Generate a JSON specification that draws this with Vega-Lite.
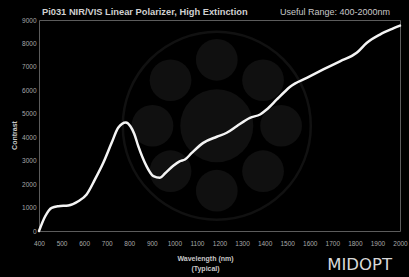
{
  "$schema": "https://vega.github.io/schema/vega-lite/v6.json",
  "autosize": "none",
  "width": 361,
  "height": 211,
  "padding": {"left": 39, "top": 20, "right": 9, "bottom": 46},
  "background": "#000000",
  "view": {"stroke": "#5c5c5c", "strokeWidth": 1, "fill": "#000000"},
  "config": {"font": "Liberation Sans"},
  "datasets": {
    "curve": [
      {"wavelength": 400, "contrast": 0},
      {"wavelength": 427, "contrast": 620},
      {"wavelength": 456, "contrast": 990},
      {"wavelength": 486, "contrast": 1060},
      {"wavelength": 530, "contrast": 1090},
      {"wavelength": 574, "contrast": 1270},
      {"wavelength": 611, "contrast": 1560},
      {"wavelength": 648, "contrast": 2200},
      {"wavelength": 685, "contrast": 2910},
      {"wavelength": 722, "contrast": 3760},
      {"wavelength": 751, "contrast": 4400},
      {"wavelength": 785, "contrast": 4630},
      {"wavelength": 805, "contrast": 4470},
      {"wavelength": 822, "contrast": 4150},
      {"wavelength": 840, "contrast": 3620},
      {"wavelength": 877, "contrast": 2760},
      {"wavelength": 907, "contrast": 2340},
      {"wavelength": 936, "contrast": 2270},
      {"wavelength": 958, "contrast": 2450},
      {"wavelength": 995, "contrast": 2780},
      {"wavelength": 1025, "contrast": 2980},
      {"wavelength": 1047, "contrast": 3050},
      {"wavelength": 1077, "contrast": 3330},
      {"wavelength": 1128, "contrast": 3760},
      {"wavelength": 1188, "contrast": 4020},
      {"wavelength": 1232, "contrast": 4190},
      {"wavelength": 1276, "contrast": 4470},
      {"wavelength": 1335, "contrast": 4830},
      {"wavelength": 1380, "contrast": 4970},
      {"wavelength": 1409, "contrast": 5180},
      {"wavelength": 1454, "contrast": 5610},
      {"wavelength": 1490, "contrast": 5950},
      {"wavelength": 1513, "contrast": 6150},
      {"wavelength": 1587, "contrast": 6530},
      {"wavelength": 1660, "contrast": 6890},
      {"wavelength": 1734, "contrast": 7240},
      {"wavelength": 1808, "contrast": 7600},
      {"wavelength": 1852, "contrast": 8020},
      {"wavelength": 1911, "contrast": 8380},
      {"wavelength": 1970, "contrast": 8640},
      {"wavelength": 2000, "contrast": 8760}
    ],
    "ring": [{"wavelength": 1188, "contrast": 4490}],
    "small": [
      {"wavelength": 1188, "contrast": 7300},
      {"wavelength": 1188, "contrast": 1720},
      {"wavelength": 903, "contrast": 4490},
      {"wavelength": 1473, "contrast": 4490},
      {"wavelength": 983, "contrast": 6430},
      {"wavelength": 1393, "contrast": 6430},
      {"wavelength": 983, "contrast": 2550},
      {"wavelength": 1393, "contrast": 2550}
    ],
    "heading": [
      {"wavelength": 400, "contrast": 9000, "label": "Pi031 NIR/VIS Linear Polarizer, High Extinction"}
    ],
    "notes": [
      {"wavelength": 2000, "contrast": 9000, "label": "Useful Range: 400-2000nm"}
    ],
    "logo": [
      {"wavelength": 2000, "contrast": 0, "label": "MIDOPT"}
    ]
  },
  "encoding": {
    "x": {
      "field": "wavelength",
      "type": "quantitative",
      "scale": {"domain": [400, 2000], "nice": false, "zero": false},
      "axis": {
        "title": ["Wavelength (nm)", "(Typical)"],
        "values": [400, 500, 600, 700, 800, 900, 1000, 1100, 1200, 1300, 1400, 1500, 1600, 1700, 1800, 1900, 2000],
        "format": "d",
        "grid": false,
        "ticks": false,
        "domain": false,
        "labelFontSize": 6.5,
        "labelColor": "#a8a8a8",
        "labelPadding": 9,
        "labelFlush": false,
        "labelOverlap": false,
        "titleFontSize": 7,
        "titleFontWeight": "bold",
        "titleColor": "#c8c8c8",
        "titleLineHeight": 10,
        "titlePadding": 8,
        "titleX": 166
      }
    },
    "y": {
      "field": "contrast",
      "type": "quantitative",
      "scale": {"domain": [0, 9000], "nice": false},
      "axis": {
        "title": "Contrast",
        "values": [0, 1000, 2000, 3000, 4000, 5000, 6000, 7000, 8000, 9000],
        "format": "d",
        "grid": false,
        "ticks": false,
        "domain": false,
        "labelFontSize": 6.5,
        "labelColor": "#a8a8a8",
        "labelPadding": 3,
        "labelFlush": false,
        "labelOverlap": false,
        "titleFontSize": 7,
        "titleFontWeight": "bold",
        "titleColor": "#c8c8c8",
        "titlePadding": 4,
        "titleY": 115
      }
    }
  },
  "layer": [
    {
      "data": {"name": "ring"},
      "mark": {"type": "point", "shape": "circle", "size": 35344, "filled": false, "stroke": "#111111", "strokeWidth": 2.5, "opacity": 1}
    },
    {
      "data": {"name": "ring"},
      "mark": {"type": "point", "shape": "circle", "size": 5329, "filled": true, "fill": "#101010", "strokeWidth": 0, "opacity": 1}
    },
    {
      "data": {"name": "small"},
      "mark": {"type": "point", "shape": "circle", "size": 1740, "filled": true, "fill": "#101010", "strokeWidth": 0, "opacity": 1}
    },
    {
      "data": {"name": "curve"},
      "mark": {"type": "line", "interpolate": "monotone", "color": "#f4f4f4", "strokeWidth": 2.5, "strokeCap": "round"}
    },
    {
      "data": {"name": "heading"},
      "mark": {"type": "text", "align": "left", "baseline": "middle", "dx": 3, "dy": -8, "fontSize": 9.3, "fontWeight": "bold", "fill": "#d0d0d0", "font": "Liberation Sans"},
      "encoding": {"text": {"field": "label", "type": "nominal"}}
    },
    {
      "data": {"name": "notes"},
      "mark": {"type": "text", "align": "right", "baseline": "middle", "dx": -10, "dy": -8, "fontSize": 9, "fill": "#c8c8c8", "font": "Liberation Sans"},
      "encoding": {"text": {"field": "label", "type": "nominal"}}
    },
    {
      "data": {"name": "logo"},
      "mark": {"type": "text", "align": "right", "baseline": "middle", "dx": -8, "dy": 34, "fontSize": 16.5, "fill": "#d8d8d8", "font": "DejaVu Sans"},
      "encoding": {"text": {"field": "label", "type": "nominal"}}
    }
  ]
}
